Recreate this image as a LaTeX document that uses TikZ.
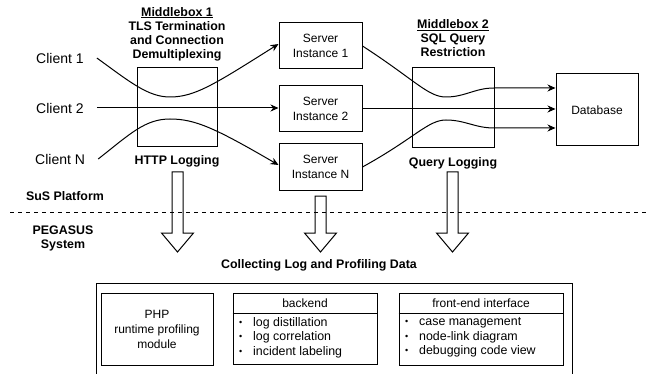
\documentclass[tikz,border=0pt]{standalone}
\usepackage{fontspec}
\setmainfont{Liberation Sans}
\usetikzlibrary{arrows.meta}

% hollow block arrow pointing down: centre x, stem top y, head y, tip y
\newcommand\logarrow[4]{%
  \draw[line width=1pt] (#1-5.5,#2) -- (#1-5.5,#3) -- (#1-16,#3) -- (#1,#4)
    -- (#1+16,#3) -- (#1+5.5,#3) -- (#1+5.5,#2) -- cycle;}
% small list bullet with fixed indent
\newcommand\itemdot{\makebox[14pt][l]{\raisebox{1pt}{\fontsize{9}{9}\selectfont •}}}

\begin{document}
\begin{tikzpicture}[x=1pt,y=-1pt,
  box/.style={draw, line width=1pt, inner sep=0pt, align=center,
    font=\fontsize{12}{15}\selectfont},
  lbl/.style={inner sep=0pt, align=center,
    font=\bfseries\fontsize{12.4}{14}\selectfont},
  client/.style={inner sep=0pt, anchor=west, font=\fontsize{14}{16}\selectfont},
  plain/.style={inner sep=0pt, align=center, font=\fontsize{12}{14}\selectfont},
  items/.style={inner sep=0pt, anchor=west, align=left,
    font=\fontsize{12.4}{14.5}\selectfont},
  flow/.style={line width=1pt, -{Stealth[length=8pt,width=7pt]}}]

\clip (0,0) rectangle (647,374);

% ---- clients ----
\node[client] (c1) at (36,58)  {Client 1};
\node[client] (c2) at (36,108) {Client 2};
\node[client] (cN) at (35,159) {Client N};

% ---- middleboxes ----
\node[box, minimum width=80, minimum height=79] (mb1) at (177,107.5) {};
\node[lbl] (mb1t) at (177,34)
  {\underline{Middlebox 1}\\TLS Termination\\and Connection\\Demultiplexing};
\node[lbl] (http) at (177,161) {HTTP Logging};

\node[box, minimum width=82, minimum height=80] (mb2) at (453,108) {};
\node[lbl] (mb2t) at (453,38.5)
  {\underline{Middlebox 2}\\SQL Query\\Restriction};
\node[lbl] (qlog) at (453,163) {Query Logging};

% ---- servers and database ----
\node[box, minimum width=83, minimum height=46] (s1) at (320.5,46)  {Server\\Instance 1};
\node[box, minimum width=83, minimum height=46] (s2) at (320.5,109) {Server\\Instance 2};
\node[box, minimum width=83, minimum height=46] (sN) at (320.5,167) {Server\\Instance N};
\node[box, minimum width=82, minimum height=72] (db) at (597,110) {Database};

% ---- connections through middlebox 1 ----
\draw[flow] ([xshift=13pt]c1.east) .. controls (130,82) and (148,97) .. (170,97)
  .. controls (195,97) and (215,84) .. ([yshift=2pt]s1.west);
\draw[flow] ([xshift=13pt]c2.east) -- (c2.east -| s2.west);
\draw[flow] ([xshift=13pt]cN.east) .. controls (130,134) and (145,119) .. (170,119)
  .. controls (195,119) and (215,128) .. ([yshift=2pt]sN.west);

% ---- connections through middlebox 2 ----
\draw[flow] (s1.east) .. controls (415,80) and (428,97) .. (446,97)
  .. controls (465,97) and (475,88) .. (494,88) -- ([yshift=22pt]db.west);
\draw[flow] (s2.east) -- (s2.east -| db.west);
\draw[flow] (sN.east) .. controls (415,138) and (428,120) .. (446,120)
  .. controls (465,120) and (475,128) .. (494,128) -- ([yshift=-18pt]db.west);

% ---- platform boundary ----
\node[lbl] (sus) at (65,196) {SuS Platform};
\node[lbl] (peg) at (63,238.5) {PEGASUS\\System};
\draw[line width=1pt, dash pattern=on 4pt off 4pt] (10,212) -- (647,212);

% ---- log flows ----
\logarrow{177.5}{172}{233}{252}
\logarrow{320.5}{196}{233}{252}
\logarrow{452.5}{172}{233}{252}

\node[lbl] (collect) at (319,265) {Collecting Log and Profiling Data};

% ---- PEGASUS components ----
\draw[line width=1pt] (96,283) rectangle (572,390);

\node[box, minimum width=112, minimum height=72] (php) at (157,329)
  {PHP\\runtime profiling\\module};

\node[box, minimum width=144, minimum height=71] (be) at (305,328.5) {};
\draw[line width=1pt] (be.west |- 0,313) -- (be.east |- 0,313);
\node[plain] (beh) at (305,303) {backend};
\node[items] (bel) at (239,337.5)
  {\itemdot log distillation\\
   \itemdot log correlation\\
   \itemdot incident labeling};

\node[box, minimum width=164, minimum height=72] (fe) at (481,329) {};
\draw[line width=1pt] (fe.west |- 0,313) -- (fe.east |- 0,313);
\node[plain] (feh) at (481,303) {front-end interface};
\node[items] (fel) at (405,337.5)
  {\itemdot case management\\
   \itemdot node-link diagram\\
   \itemdot debugging code view};
\end{tikzpicture}
\end{document}
